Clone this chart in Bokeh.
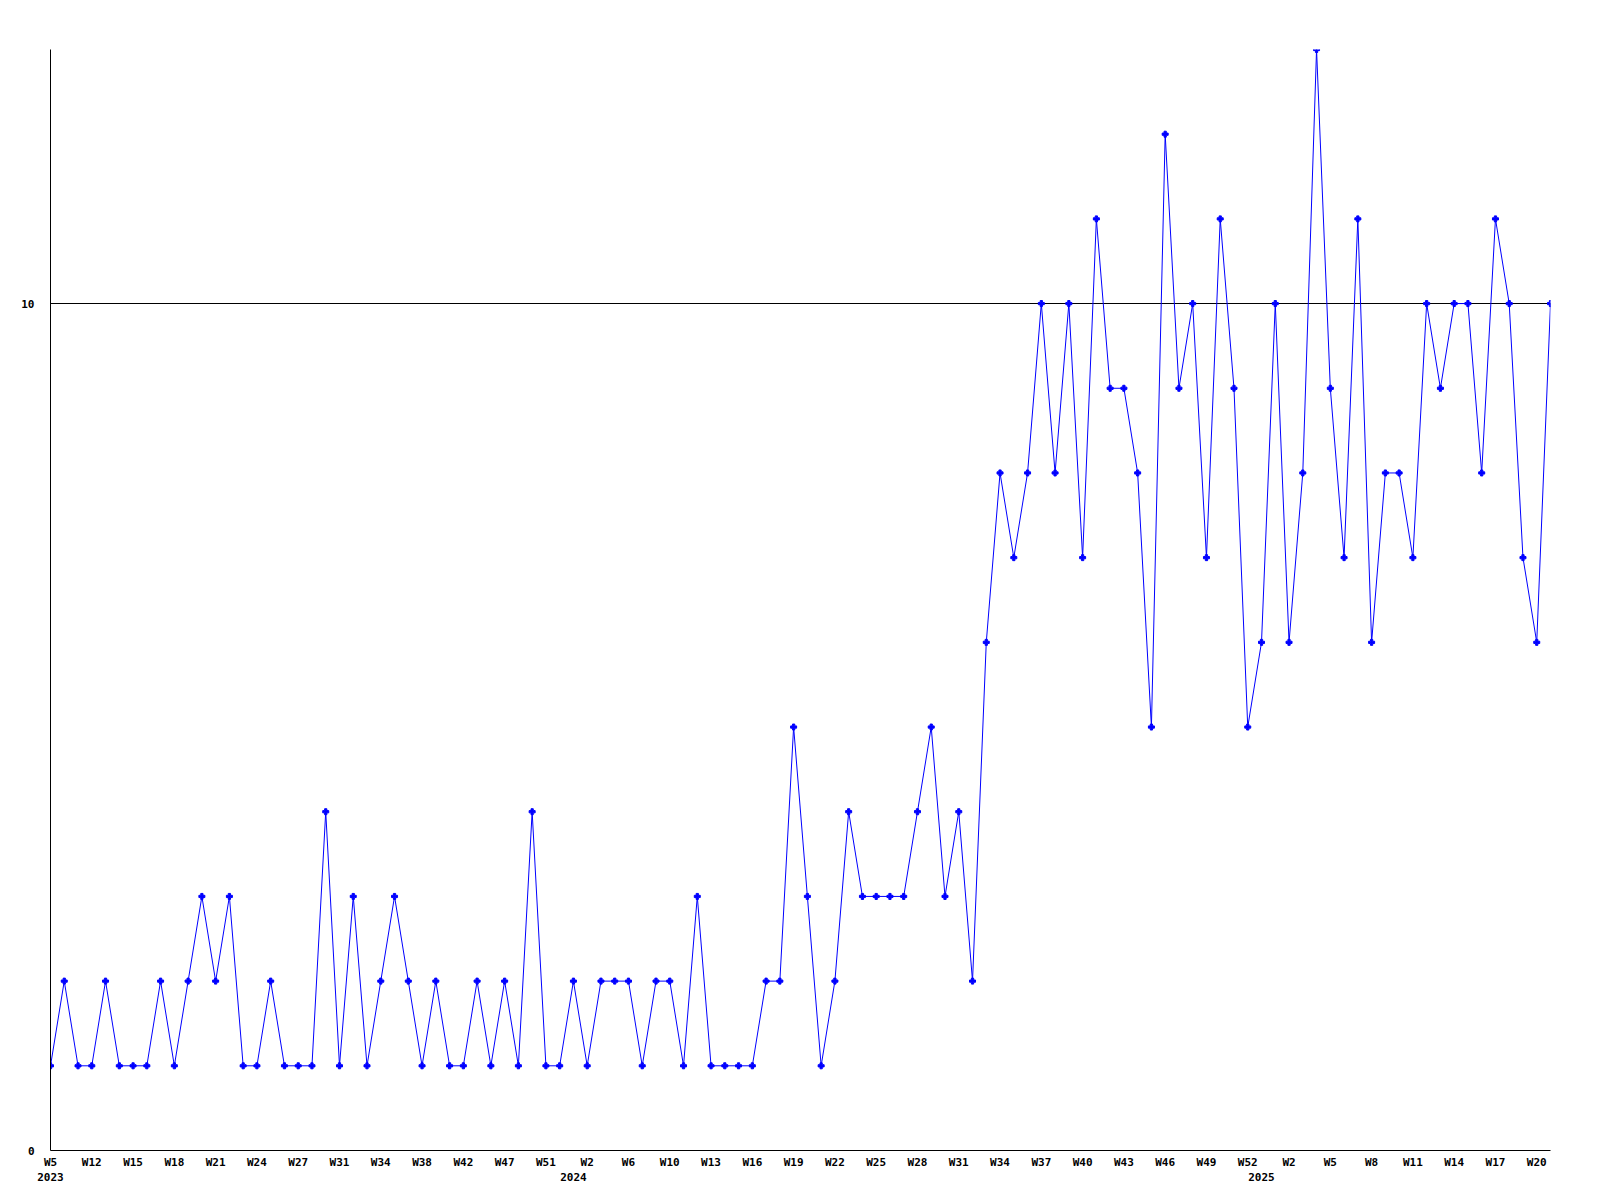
from bokeh.plotting import figure
from bokeh.models import Range1d, FixedTicker, LinearAxis
from bokeh.embed import file_html
from bokeh.resources import INLINE

# weekly values, 2023 W5 .. 2025 W21
values = [1, 2, 1, 1, 2, 1, 1, 1, 2, 1,
          2, 3, 2, 3, 1, 1, 2, 1, 1, 1,
          4, 1, 3, 1, 2, 3, 2, 1, 2, 1,
          1, 2, 1, 2, 1, 4, 1, 1, 2, 1,
          2, 2, 2, 1, 2, 2, 1, 3, 1, 1,
          1, 1, 2, 2, 5, 3, 1, 2, 4, 3,
          3, 3, 3, 4, 5, 3, 4, 2, 6, 8,
          7, 8, 10, 8, 10, 7, 11, 9, 9, 8,
          5, 12, 9, 10, 7, 11, 9, 5, 6, 10,
          6, 8, 13, 9, 7, 11, 6, 8, 8, 7,
          10, 9, 10, 10, 8, 11, 10, 7, 6, 10]
x_index = list(range(len(values)))

week_labels = ["W5", "W12", "W15", "W18", "W21", "W24", "W27", "W31", "W34", "W38",
               "W42", "W47", "W51", "W2", "W6", "W10", "W13", "W16", "W19", "W22",
               "W25", "W28", "W31", "W34", "W37", "W40", "W43", "W46", "W49", "W52",
               "W2", "W5", "W8", "W11", "W14", "W17", "W20"]
week_ticks = list(range(0, 3 * len(week_labels), 3))

year_labels = ["2023", "2024", "2025"]
year_ticks = [0, 38, 88]

y_ticks = [0, 10]
grid_ticks = [10]

FONT = "DejaVu Sans Mono"
FS = "11px"

p = figure(width=1590, height=1183, output_backend="svg", toolbar_location=None,
           x_range=Range1d(0, len(values) - 1), y_range=Range1d(0, 13),
           x_axis_location=None, min_border_left=50, min_border_right=40,
           min_border_top=49, min_border_bottom=10)
p.outline_line_color = None
p.background_fill_color = "white"
p.border_fill_color = "white"

p.xgrid.visible = False
p.ygrid.ticker = FixedTicker(ticks=grid_ticks)
p.ygrid.grid_line_color = "black"
p.ygrid.grid_line_width = 1

ya = p.yaxis[0]
ya.ticker = FixedTicker(ticks=y_ticks)
ya.major_tick_out = 0
ya.major_tick_in = 0
ya.minor_tick_out = 0
ya.minor_tick_in = 0
ya.axis_line_color = "black"
ya.major_label_text_font = FONT
ya.major_label_text_font_style = "bold"
ya.major_label_text_font_size = FS
ya.major_label_text_color = "black"
ya.major_label_standoff = 16

wa = LinearAxis(ticker=FixedTicker(ticks=week_ticks),
                major_label_overrides={t: l for t, l in zip(week_ticks, week_labels)})
wa.major_tick_out = 0
wa.major_tick_in = 0
wa.minor_tick_out = 0
wa.minor_tick_in = 0
wa.axis_line_color = "black"
wa.major_label_text_font = FONT
wa.major_label_text_font_style = "bold"
wa.major_label_text_font_size = FS
wa.major_label_text_color = "black"
wa.major_label_standoff = 5
p.add_layout(wa, "below")

ya2 = LinearAxis(ticker=FixedTicker(ticks=year_ticks),
                 major_label_overrides={t: l for t, l in zip(year_ticks, year_labels)})
ya2.major_tick_out = 0
ya2.major_tick_in = 0
ya2.minor_tick_out = 0
ya2.minor_tick_in = 0
ya2.axis_line_color = None
ya2.major_label_text_font = FONT
ya2.major_label_text_font_style = "bold"
ya2.major_label_text_font_size = FS
ya2.major_label_text_color = "black"
ya2.major_label_standoff = 1
p.add_layout(ya2, "below")

p.line(x_index, values, line_color="#0000ff", line_width=1)
p.scatter(x_index, values, marker="plus", size=6, fill_color="#0000ff",
          line_color="#0000ff", line_width=1)

open("out.html", "w").write(file_html(p, INLINE))
